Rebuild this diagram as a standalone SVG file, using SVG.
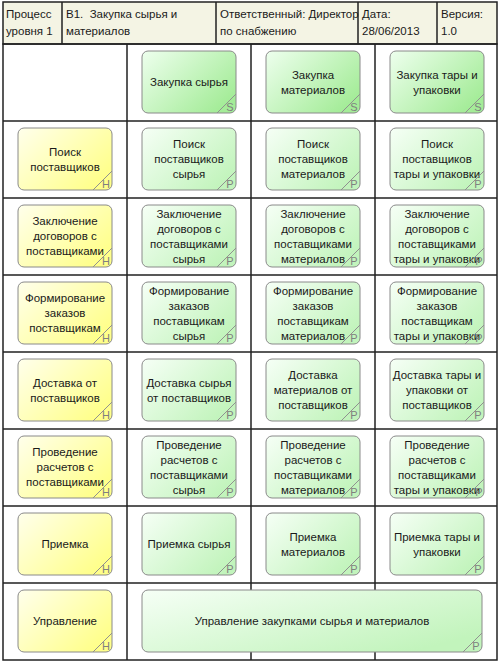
<svg xmlns="http://www.w3.org/2000/svg" width="501" height="664" viewBox="0 0 501 664">
<defs>
<linearGradient id="gS" x1="0" y1="0" x2="1" y2="0.7"><stop offset="0" stop-color="#eeffee"/><stop offset="1" stop-color="#a4ec98"/></linearGradient>
<linearGradient id="gP" x1="0" y1="0" x2="1" y2="0.7"><stop offset="0" stop-color="#f6fff6"/><stop offset="1" stop-color="#c2f4bc"/></linearGradient>
<linearGradient id="gH" x1="0" y1="0" x2="1" y2="0.7"><stop offset="0" stop-color="#ffffec"/><stop offset="1" stop-color="#ffff8a"/></linearGradient>
<style>
.hdr{fill:#f4f4e4;stroke:#222;stroke-width:1.5}
.ln{stroke:#222;stroke-width:1.5;fill:none}
.s{fill:url(#gS);stroke:#8a8a8a;stroke-width:1}
.p{fill:url(#gP);stroke:#8a8a8a;stroke-width:1}
.h{fill:url(#gH);stroke:#8a8a8a;stroke-width:1}
text{font-family:"Liberation Sans",Arial,sans-serif;font-size:11.5px;fill:#1a1a1a}
.t{text-anchor:middle}
.g{font-size:11px;fill:#808080;text-anchor:middle}
.c{stroke:#909090;stroke-width:1;fill:none}
</style>
</defs>
<rect x="0" y="0" width="501" height="664" fill="#ffffff"/>
<g id="header">
<rect class="hdr" x="3" y="2" width="494" height="42"/>
<path class="ln" d="M62 2V44M216 2V44M358 2V44M437 2V44"/>
<text x="6" y="18">Процесс</text><text x="6" y="35">уровня 1</text>
<text x="66" y="18" xml:space="preserve">B1.  Закупка сырья и</text><text x="66" y="35">материалов</text>
<text x="220" y="18">Ответственный: Директор</text><text x="220" y="35">по снабжению</text>
<text x="362" y="18">Дата:</text><text x="362" y="35">28/06/2013</text>
<text x="441" y="18">Версия:</text><text x="441" y="35">1.0</text>
</g>
<g id="grid">
<rect class="ln" x="3" y="44" width="494" height="616"/>
<path class="ln" d="M3 121H497M3 198H497M3 275H497M3 352H497M3 429H497M3 506H497M3 583H497M127 44V660M251 44V660M375 44V660"/>
</g>
<g id="connectors"></g>

<g id="n-r0c1"><rect class="s" x="142" y="51" width="94" height="62" rx="6"/><text class="t" x="189" y="86">Закупка сырья</text><path class="c" d="M217 113L236 94"/><text class="g" x="230" y="111">S</text></g>
<g id="n-r0c2"><rect class="s" x="266" y="51" width="94" height="62" rx="6"/><text class="t" x="313"><tspan x="313" y="78.5">Закупка</tspan><tspan x="313" y="93.5">материалов</tspan></text><path class="c" d="M341 113L360 94"/><text class="g" x="354" y="111">S</text></g>
<g id="n-r0c3"><rect class="s" x="390" y="51" width="94" height="62" rx="6"/><text class="t" x="437"><tspan x="437" y="78.5">Закупка тары и</tspan><tspan x="437" y="93.5">упаковки</tspan></text><path class="c" d="M465 113L484 94"/><text class="g" x="478" y="111">S</text></g>

<g id="n-r1c0"><rect class="h" x="18" y="128" width="94" height="62" rx="6"/><text class="t" x="65"><tspan x="65" y="155.5">Поиск</tspan><tspan x="65" y="170.5">поставщиков</tspan></text><path class="c" d="M93 190L112 171"/><text class="g" x="106" y="188">H</text></g>
<g id="n-r1c1"><rect class="p" x="142" y="128" width="94" height="62" rx="6"/><text class="t" x="189"><tspan x="189" y="148">Поиск</tspan><tspan x="189" y="163">поставщиков</tspan><tspan x="189" y="178">сырья</tspan></text><path class="c" d="M217 190L236 171"/><text class="g" x="230" y="188">P</text></g>
<g id="n-r1c2"><rect class="p" x="266" y="128" width="94" height="62" rx="6"/><text class="t" x="313"><tspan x="313" y="148">Поиск</tspan><tspan x="313" y="163">поставщиков</tspan><tspan x="313" y="178">материалов</tspan></text><path class="c" d="M341 190L360 171"/><text class="g" x="354" y="188">P</text></g>
<g id="n-r1c3"><rect class="p" x="390" y="128" width="94" height="62" rx="6"/><text class="t" x="437"><tspan x="437" y="148">Поиск</tspan><tspan x="437" y="163">поставщиков</tspan><tspan x="437" y="178">тары и упаковки</tspan></text><path class="c" d="M465 190L484 171"/><text class="g" x="478" y="188">P</text></g>

<g id="n-r2c0"><rect class="h" x="18" y="205" width="94" height="62" rx="6"/><text class="t" x="65"><tspan x="65" y="225">Заключение</tspan><tspan x="65" y="240">договоров с</tspan><tspan x="65" y="255">поставщиками</tspan></text><path class="c" d="M93 267L112 248"/><text class="g" x="106" y="265">H</text></g>
<g id="n-r2c1"><rect class="p" x="142" y="205" width="94" height="62" rx="6"/><text class="t" x="189"><tspan x="189" y="217.5">Заключение</tspan><tspan x="189" y="232.5">договоров с</tspan><tspan x="189" y="247.5">поставщиками</tspan><tspan x="189" y="262.5">сырья</tspan></text><path class="c" d="M217 267L236 248"/><text class="g" x="230" y="265">P</text></g>
<g id="n-r2c2"><rect class="p" x="266" y="205" width="94" height="62" rx="6"/><text class="t" x="313"><tspan x="313" y="217.5">Заключение</tspan><tspan x="313" y="232.5">договоров с</tspan><tspan x="313" y="247.5">поставщиками</tspan><tspan x="313" y="262.5">материалов</tspan></text><path class="c" d="M341 267L360 248"/><text class="g" x="354" y="265">P</text></g>
<g id="n-r2c3"><rect class="p" x="390" y="205" width="94" height="62" rx="6"/><text class="t" x="437"><tspan x="437" y="217.5">Заключение</tspan><tspan x="437" y="232.5">договоров с</tspan><tspan x="437" y="247.5">поставщиками</tspan><tspan x="437" y="262.5">тары и упаковки</tspan></text><path class="c" d="M465 267L484 248"/><text class="g" x="479" y="265">P</text></g>

<g id="n-r3c0"><rect class="h" x="18" y="282" width="94" height="62" rx="6"/><text class="t" x="65"><tspan x="65" y="302">Формирование</tspan><tspan x="65" y="317">заказов</tspan><tspan x="65" y="332">поставщикам</tspan></text><path class="c" d="M93 344L112 325"/><text class="g" x="106" y="342">H</text></g>
<g id="n-r3c1"><rect class="p" x="142" y="282" width="94" height="62" rx="6"/><text class="t" x="189"><tspan x="189" y="294.5">Формирование</tspan><tspan x="189" y="309.5">заказов</tspan><tspan x="189" y="324.5">поставщикам</tspan><tspan x="189" y="339.5">сырья</tspan></text><path class="c" d="M217 344L236 325"/><text class="g" x="230" y="342">P</text></g>
<g id="n-r3c2"><rect class="p" x="266" y="282" width="94" height="62" rx="6"/><text class="t" x="313"><tspan x="313" y="294.5">Формирование</tspan><tspan x="313" y="309.5">заказов</tspan><tspan x="313" y="324.5">поставщикам</tspan><tspan x="313" y="339.5">материалов</tspan></text><path class="c" d="M341 344L360 325"/><text class="g" x="354" y="342">P</text></g>
<g id="n-r3c3"><rect class="p" x="390" y="282" width="94" height="62" rx="6"/><text class="t" x="437"><tspan x="437" y="294.5">Формирование</tspan><tspan x="437" y="309.5">заказов</tspan><tspan x="437" y="324.5">поставщикам</tspan><tspan x="437" y="339.5">тары и упаковки</tspan></text><path class="c" d="M465 344L484 325"/><text class="g" x="479" y="342">P</text></g>

<g id="n-r4c0"><rect class="h" x="18" y="359" width="94" height="62" rx="6"/><text class="t" x="65"><tspan x="65" y="386.5">Доставка от</tspan><tspan x="65" y="401.5">поставщиков</tspan></text><path class="c" d="M93 421L112 402"/><text class="g" x="106" y="419">H</text></g>
<g id="n-r4c1"><rect class="p" x="142" y="359" width="94" height="62" rx="6"/><text class="t" x="189"><tspan x="189" y="386.5">Доставка сырья</tspan><tspan x="189" y="401.5">от поставщиков</tspan></text><path class="c" d="M217 421L236 402"/><text class="g" x="230" y="419">P</text></g>
<g id="n-r4c2"><rect class="p" x="266" y="359" width="94" height="62" rx="6"/><text class="t" x="313"><tspan x="313" y="379">Доставка</tspan><tspan x="313" y="394">материалов от</tspan><tspan x="313" y="409">поставщиков</tspan></text><path class="c" d="M341 421L360 402"/><text class="g" x="354" y="419">P</text></g>
<g id="n-r4c3"><rect class="p" x="390" y="359" width="94" height="62" rx="6"/><text class="t" x="437"><tspan x="437" y="379">Доставка тары и</tspan><tspan x="437" y="394">упаковки от</tspan><tspan x="437" y="409">поставщиков</tspan></text><path class="c" d="M465 421L484 402"/><text class="g" x="478" y="419">P</text></g>

<g id="n-r5c0"><rect class="h" x="18" y="436" width="94" height="62" rx="6"/><text class="t" x="65"><tspan x="65" y="456">Проведение</tspan><tspan x="65" y="471">расчетов с</tspan><tspan x="65" y="486">поставщиками</tspan></text><path class="c" d="M93 498L112 479"/><text class="g" x="106" y="496">H</text></g>
<g id="n-r5c1"><rect class="p" x="142" y="436" width="94" height="62" rx="6"/><text class="t" x="189"><tspan x="189" y="448.5">Проведение</tspan><tspan x="189" y="463.5">расчетов с</tspan><tspan x="189" y="478.5">поставщиками</tspan><tspan x="189" y="493.5">сырья</tspan></text><path class="c" d="M217 498L236 479"/><text class="g" x="230" y="496">P</text></g>
<g id="n-r5c2"><rect class="p" x="266" y="436" width="94" height="62" rx="6"/><text class="t" x="313"><tspan x="313" y="448.5">Проведение</tspan><tspan x="313" y="463.5">расчетов с</tspan><tspan x="313" y="478.5">поставщиками</tspan><tspan x="313" y="493.5">материалов</tspan></text><path class="c" d="M341 498L360 479"/><text class="g" x="354" y="496">P</text></g>
<g id="n-r5c3"><rect class="p" x="390" y="436" width="94" height="62" rx="6"/><text class="t" x="437"><tspan x="437" y="448.5">Проведение</tspan><tspan x="437" y="463.5">расчетов с</tspan><tspan x="437" y="478.5">поставщиками</tspan><tspan x="437" y="493.5">тары и упаковки</tspan></text><path class="c" d="M465 498L484 479"/><text class="g" x="479" y="496">P</text></g>

<g id="n-r6c0"><rect class="h" x="18" y="513" width="94" height="62" rx="6"/><text class="t" x="65" y="548">Приемка</text><path class="c" d="M93 575L112 556"/><text class="g" x="106" y="573">H</text></g>
<g id="n-r6c1"><rect class="p" x="142" y="513" width="94" height="62" rx="6"/><text class="t" x="189" y="548">Приемка сырья</text><path class="c" d="M217 575L236 556"/><text class="g" x="230" y="573">P</text></g>
<g id="n-r6c2"><rect class="p" x="266" y="513" width="94" height="62" rx="6"/><text class="t" x="313"><tspan x="313" y="540.5">Приемка</tspan><tspan x="313" y="555.5">материалов</tspan></text><path class="c" d="M341 575L360 556"/><text class="g" x="354" y="573">P</text></g>
<g id="n-r6c3"><rect class="p" x="390" y="513" width="94" height="62" rx="6"/><text class="t" x="437"><tspan x="437" y="540.5">Приемка тары и</tspan><tspan x="437" y="555.5">упаковки</tspan></text><path class="c" d="M465 575L484 556"/><text class="g" x="478" y="573">P</text></g>

<g id="n-r7c0"><rect class="h" x="18" y="590" width="94" height="62" rx="6"/><text class="t" x="65" y="625">Управление</text><path class="c" d="M93 652L112 633"/><text class="g" x="106" y="650">H</text></g>
<g id="n-r7wide"><rect class="p" x="142" y="590" width="340" height="62" rx="6"/><text class="t" x="312" y="625">Управление закупками сырья и материалов</text><path class="c" d="M463 652L482 633"/><text class="g" x="476" y="650">P</text></g>
</svg>
